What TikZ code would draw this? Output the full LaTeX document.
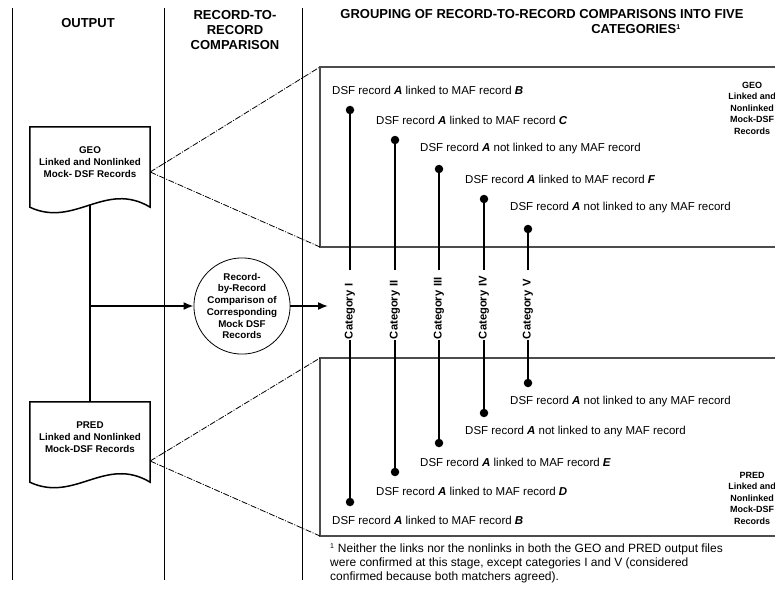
\documentclass[tikz,border=0pt]{standalone}
\usepackage{fontspec}
\setmainfont{Liberation Sans}
\usetikzlibrary{arrows.meta}

\tikzset{
  hdr/.style={font=\bfseries\fontsize{13}{15}\selectfont, align=center, inner sep=0},
  rec/.style={font=\fontsize{11.5}{13}\selectfont, anchor=west, inner sep=0},
  dot/.style={circle, fill=black, minimum size=8.5pt, inner sep=0},
  catline/.style={line width=1.8pt},
  catlabel/.style={rotate=90, font=\bfseries\fontsize{11.2}{13}\selectfont, text width=68pt, align=left, inner sep=1pt},
  docbox/.style={minimum width=120pt, minimum height=70pt, inner sep=0, align=center, font=\bfseries\fontsize{9.8}{11.7}\selectfont},
  docline/.style={line width=1.5pt},
  flow/.style={line width=1.6pt},
  flowarrow/.style={flow, -{Latex[length=10pt,width=8pt]}},
  zoomline/.style={line width=0.8pt, dash pattern=on 6pt off 1.5pt on 1pt off 1.5pt},
  panel/.style={draw=black!70, line width=1.2pt},
  divider/.style={line width=0.8pt},
  sidenote/.style={font=\bfseries\fontsize{9}{11.5}\selectfont, align=center, inner sep=0},
}

\begin{document}
\begin{tikzpicture}[x=1pt, y=-1pt]
\useasboundingbox (0,0) rectangle (775,591);

% column dividers
\draw[divider] (12,8) -- (12,580);
\draw[divider] (164,8) -- (164,580);
\draw[divider] (302,8) -- (302,580);

% headings
\node[hdr] (hout) at (88,23) {OUTPUT};
\node[hdr] (hcmp) at (235,30) {RECORD-TO-\\RECORD\\COMPARISON};
\node[hdr] (hgrp) at (542,22) {GROUPING OF RECORD-TO-RECORD COMPARISONS INTO FIVE\\
  \hspace*{188pt}CATEGORIES\textsuperscript{\fontsize{7}{8}\selectfont 1}};

% output files
\node[docbox] (geo) at (90,162) {GEO\\Linked and Nonlinked\\Mock- DSF Records};
\draw[docline] (geo.north west) -- (geo.north east) -- ([yshift=-10pt]geo.south east)
  .. controls +(-45,-27) and +(45,21) .. ([yshift=-10pt]geo.south west) -- cycle;
\node[docbox] (pred) at (90,437) {PRED\\Linked and Nonlinked\\Mock-DSF Records};
\draw[docline] (pred.north west) -- (pred.north east) -- ([yshift=-10pt]pred.south east)
  .. controls +(-45,-27) and +(45,21) .. ([yshift=-10pt]pred.south west) -- cycle;
\coordinate (geoout) at ([yshift=-10pt]geo.east);
\coordinate (predout) at ([yshift=-24pt]pred.east);

% comparison
\node[circle, draw, line width=0.8pt, minimum size=90pt, inner sep=0, align=center,
  font=\bfseries\fontsize{9.8}{11.7}\selectfont] (cmp) at (242,306)
  {Record-\\by-Record\\Comparison of\\Corresponding\\Mock DSF\\Records};
\coordinate (split) at (geo.south |- cmp.west);
\coordinate (catin) at (328,306);
\draw[flow] ([yshift=-8pt]geo.south) -- (pred.north);
\draw[flowarrow] (split) -- (cmp);
\draw[flowarrow] (cmp) -- (catin);

% panels
\coordinate (gtl) at (320,67);
\coordinate (gbl) at (320,247);
\coordinate (ptl) at (320,358);
\coordinate (pbl) at (320,536);
\draw[panel] (780,67) -- (gtl) -- (gbl) -- (780,247);
\draw[panel] (780,358) -- (ptl) -- (pbl) -- (780,536);
\draw[zoomline] (geoout) -- (gtl);
\draw[zoomline] (geoout) -- (gbl);
\draw[zoomline] (predout) -- (ptl);
\draw[zoomline] (predout) -- (pbl);

\node[sidenote] (gnote) at (752,108) {GEO\\Linked and\\Nonlinked\\Mock-DSF\\Records};
\node[sidenote] (pnote) at (752,498) {PRED\\Linked and\\Nonlinked\\Mock-DSF\\Records};

% GEO records
\node[rec] (lu1) at (332,90) {DSF record \textbf{\textit{A}} linked to MAF record \textbf{\textit{B}}};
\node[rec] (lu2) at (376,120) {DSF record \textbf{\textit{A}} linked to MAF record \textbf{\textit{C}}};
\node[rec] (lu3) at (420,149) {DSF record \textbf{\textit{A}} not linked to any MAF record};
\node[rec] (lu4) at (465,179) {DSF record \textbf{\textit{A}} linked to MAF record \textbf{\textit{F}}};
\node[rec] (lu5) at (510,208) {DSF record \textbf{\textit{A}} not linked to any MAF record};
\node[dot] (u1) at (350,110) {};
\node[dot] (u2) at (395,140) {};
\node[dot] (u3) at (439,169) {};
\node[dot] (u4) at (484,199) {};
\node[dot] (u5) at (528,229) {};

% PRED records
\node[dot] (d1) at (350,502) {};
\node[dot] (d2) at (395,472) {};
\node[dot] (d3) at (439,443) {};
\node[dot] (d4) at (484,413) {};
\node[dot] (d5) at (528,383) {};
\node[rec] (ld5) at (510,402) {DSF record \textbf{\textit{A}} not linked to any MAF record};
\node[rec] (ld4) at (465,432) {DSF record \textbf{\textit{A}} not linked to any MAF record};
\node[rec] (ld3) at (420,462) {DSF record \textbf{\textit{A}} linked to MAF record \textbf{\textit{E}}};
\node[rec] (ld2) at (376,491) {DSF record \textbf{\textit{A}} linked to MAF record \textbf{\textit{D}}};
\node[rec] (ld1) at (332,520) {DSF record \textbf{\textit{A}} linked to MAF record \textbf{\textit{B}}};

% categories
\node[catlabel] (c1) at (350,305) {Category I};
\node[catlabel] (c2) at (395,305) {Category II};
\node[catlabel] (c3) at (439,305) {Category III};
\node[catlabel] (c4) at (484,305) {Category IV};
\node[catlabel] (c5) at (528,305) {Category V};
\draw[catline] (u1) -- (c1);
\draw[catline] (c1) -- (d1);
\draw[catline] (u2) -- (c2);
\draw[catline] (c2) -- (d2);
\draw[catline] (u3) -- (c3);
\draw[catline] (c3) -- (d3);
\draw[catline] (u4) -- (c4);
\draw[catline] (c4) -- (d4);
\draw[catline] (u5) -- (c5);
\draw[catline] (c5) -- (d5);

% footnote
\node[font=\fontsize{12}{14}\selectfont, anchor=north west, align=left, inner sep=0] (fn) at (330,543)
  {\textsuperscript{\fontsize{7}{8}\selectfont 1} Neither the links nor the nonlinks in both the GEO and PRED output files\\
   were confirmed at this stage, except categories I and V (considered\\
   confirmed because both matchers agreed).};
\end{tikzpicture}
\end{document}
